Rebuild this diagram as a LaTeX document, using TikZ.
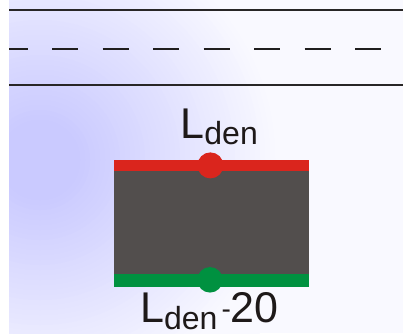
\documentclass[tikz,border=0pt]{standalone}
\usepackage{fontspec}
\setmainfont{Liberation Sans}
\definecolor{bgA}{RGB}{202,202,255}
\definecolor{bgD}{RGB}{249,249,255}
\definecolor{lineC}{RGB}{40,38,38}
\definecolor{bandR}{RGB}{218,37,29}
\definecolor{bandG}{RGB}{0,145,64}
\definecolor{bodyC}{RGB}{82,78,77}
\definecolor{txtC}{RGB}{30,25,25}
\newcommand{\bigf}{\fontsize{43}{43}\selectfont}
\newcommand{\subf}{\fontsize{32}{32}\selectfont}
\tikzset{
  roadline/.style={draw=lineC, line width=1.8pt},
  centerline/.style={draw=lineC!80!black, line width=2.3pt, dash pattern=on 26pt off 24.5pt, dash phase=7.5pt},
  dotnode/.style={circle, inner sep=0pt, minimum size=26pt},
  lbl/.style={anchor=base west, inner sep=0pt, text=txtC, font=\bigf}
}
\begin{document}
\begin{tikzpicture}[x=1pt,y=-1pt]
\useasboundingbox (0,0) rectangle (403,333);
\begin{scope}
\clip (9,0) rectangle (403,333);
\fill[bgD] (9,0) rectangle (403,333);
\foreach \i in {0,...,55}{
  \pgfmathsetmacro\rr{280-\i*5}
  \pgfmathsetmacro\pp{max(0,min(100,120-0.5*\rr))}
  \fill[bgA!\pp!bgD] (40,160) circle (\rr);
}
\end{scope}
% road lines
\draw[roadline] (9,10) -- (403,10);
\draw[roadline] (9,85) -- (403,85);
\draw[centerline] (9,49) -- (395,49);
% body
\fill[bodyC] (114,170.7) rectangle (309,274.5);
\fill[bandR] (114,159.6) rectangle (309,170.7);
\fill[bandG] (114,274.2) rectangle (309,287.3);
\node[dotnode, fill=bandR] (rdot) at (210.4,165.4) {};
\node[dotnode, fill=bandG, minimum size=25.5pt] (gdot) at (210,279.8) {};
% labels
\node[lbl] (top) at (180.3,138.5) {L\raisebox{-6pt}{\subf den}};
\node[lbl] (bot) at (140,322.5) {L\raisebox{-7pt}{\subf den}\hspace{4pt}\raisebox{4.5pt}{\fontsize{28}{28}\selectfont -}20};
\end{tikzpicture}
\end{document}
